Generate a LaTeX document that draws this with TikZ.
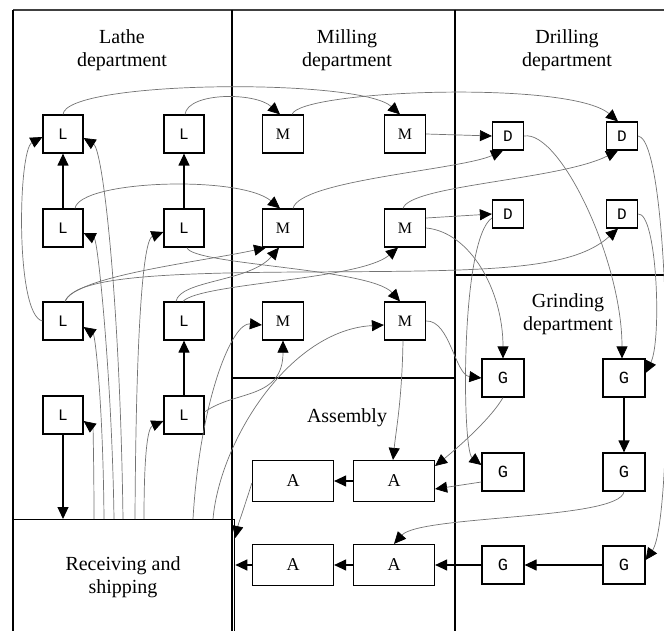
\documentclass[tikz,border=0pt]{standalone}
\usepackage{fontspec}
\setmainfont{Liberation Serif}
\newfontfamily\monolabel{Liberation Mono}
\usetikzlibrary{arrows.meta,calc}

\begin{document}
\begin{tikzpicture}[x=1pt,y=-1pt,
  deptline/.style={draw=black, line width=1.1pt},
  box/.style={draw=black, line width=1.2pt, fill=white, inner sep=0pt, text height=1.08em, text depth=0pt},
  lbox/.style={box, minimum width=40pt, minimum height=38pt, font=\monolabel\fontsize{16}{16}\selectfont},
  mbox/.style={box, minimum width=41pt, minimum height=38pt, font=\fontsize{16}{16}\selectfont},
  dbox/.style={box, minimum width=31pt, minimum height=28pt, font=\monolabel\fontsize{16}{16}\selectfont},
  gbox/.style={box, minimum width=42pt, minimum height=38pt, font=\monolabel\fontsize{17}{17}\selectfont},
  abox/.style={box, minimum width=81pt, minimum height=41pt, font=\fontsize{18}{18}\selectfont},
  title/.style={align=center, font=\fontsize{20}{23}\selectfont, inner sep=0pt},
  flow/.style={draw=black!55, line width=0.7pt, -{Triangle[length=12pt,width=11pt,color=black]}},
  move/.style={draw=black, line width=1.2pt, -{Triangle[length=12pt,width=11pt]}}
]
\useasboundingbox (0,0) rectangle (664,631);

% department frame
\draw[deptline, draw=black!75] (13,10) -- (664,10);
\draw[deptline] (13,10) -- (13,631);
\draw[deptline] (232,10) -- (232,631);
\draw[deptline] (455,10) -- (455,631);
\draw[deptline] (455,275) -- (664,275);
\draw[deptline] (232,378) -- (455,378);

% receiving and shipping area
\node[draw=black, line width=1.3pt, minimum width=221pt, minimum height=140pt,
      anchor=north west, inner sep=0pt] (recv) at (13,519) {};

% department titles
\node[title] (tlathe) at (122,50) {Lathe\\department};
\node[title] (tmill) at (347,50) {Milling\\department};
\node[title] (tdrill) at (567,50) {Drilling\\department};
\node[title] (tgrind) at (568,314) {Grinding\\department};
\node[title] (tasm) at (347,418) {Assembly};
\node[title] (trecv) at (123,577) {Receiving and\\shipping};

% machines
\node[lbox] (L11) at (63,134) {L};
\node[lbox] (L12) at (184,134) {L};
\node[lbox] (L21) at (63,228) {L};
\node[lbox] (L22) at (184,228) {L};
\node[lbox] (L31) at (63,321) {L};
\node[lbox] (L32) at (184,321) {L};
\node[lbox] (L41) at (63,415) {L};
\node[lbox] (L42) at (184,415) {L};

\node[mbox] (M11) at (283,134) {M};
\node[mbox] (M12) at (405,134) {M};
\node[mbox] (M21) at (283,228) {M};
\node[mbox] (M22) at (405,228) {M};
\node[mbox] (M31) at (283,321) {M};
\node[mbox] (M32) at (405,321) {M};

\node[dbox] (D11) at (508,136) {D};
\node[dbox] (D12) at (622,136) {D};
\node[dbox] (D21) at (508,214) {D};
\node[dbox] (D22) at (622,214) {D};

\node[gbox] (G11) at (503,378) {G};
\node[gbox] (G12) at (624,378) {G};
\node[gbox] (G21) at (503,472) {G};
\node[gbox] (G22) at (624,472) {G};
\node[gbox] (G31) at (503,565) {G};
\node[gbox] (G32) at (624,565) {G};

\node[abox] (A11) at (293,481) {A};
\node[abox] (A12) at (394,481) {A};
\node[abox] (A21) at (293,565) {A};
\node[abox] (A22) at (394,565) {A};

% flow lines
% lathe
\draw[flow] (L31.west) .. controls (15,315) and (18,150) .. ($(L11.west)+(0,3)$);
\draw[flow] ($(recv.north west)+(110,0)$) .. controls (120,300) and (103,150) .. ($(L11.east)+(0,4)$);
\draw[flow] ($(recv.north west)+(101,0)$) .. controls (112,380) and (98,240) .. ($(L21.east)+(0,5)$);
\draw[flow] ($(recv.north west)+(91,0)$) .. controls (103,400) and (95,335) .. ($(L31.east)+(0,6)$);
\draw[flow] ($(recv.north west)+(81,0)$) .. controls (94,470) and (93,428) .. ($(L41.east)+(0,6)$);
\draw[flow] ($(recv.north west)+(122,0)$) .. controls (136,330) and (143,240) .. ($(L22.west)+(0,4)$);
\draw[flow] ($(recv.north west)+(131,0)$) .. controls (144,460) and (147,428) .. ($(L42.west)+(0,6)$);
\draw[flow] ($(recv.north west)+(180,0)$) .. controls (200,400) and (232,322) .. ($(M31.west)+(0,4)$);
\draw[flow] ($(recv.north west)+(200,0)$) .. controls (220,440) and (290,330) .. ($(M32.west)+(0,4)$);

\draw[flow] (L11.north) .. controls (66,80) and (360,78) .. ($(M12.north)+(-5,0)$);
\draw[flow] ($(L12.north)+(1,0)$) .. controls (188,92) and (255,92) .. ($(M11.north)+(-3,0)$);
\draw[flow] ($(L21.north)+(12,0)$) .. controls (80,180) and (240,175) .. ($(M21.north)+(-3,0)$);
\draw[flow] ($(L22.south)+(3,0)$) .. controls (192,265) and (370,268) .. ($(M32.north)+(-5,0)$);
\draw[flow] ($(L31.north)+(2,0)$) .. controls (75,278) and (150,273) .. (300,272)
            .. controls (480,271) and (570,272) .. ($(D22.south)+(-4,0)$);
\draw[flow] ($(L31.north)+(2,0)$) .. controls (75,276) and (200,262) .. ($(M21.south)+(-17,0)$);
\draw[flow] ($(L32.north)+(-8,0)$) .. controls (180,280) and (250,282) .. ($(M21.south)+(-4,0)$);
\draw[flow] ($(L32.north)+(-1,0)$) .. controls (200,283) and (360,280) .. ($(M22.south)+(-7,0)$);
\draw[flow] ($(L42.east)+(0,-3)$) .. controls (235,390) and (283,400) .. (M31.south);

% milling
\draw[flow] ($(M11.north)+(9,0)$) .. controls (300,90) and (570,80) .. ($(D12.north)+(-4,0)$);
\draw[flow] (M12.east) -- (D11.west);
\draw[flow] ($(M21.north)+(10,0)$) .. controls (300,180) and (460,170) .. ($(D11.south)+(-5,0)$);
\draw[flow] ($(M22.north)+(-2,0)$) .. controls (410,185) and (560,180) .. ($(D12.south)+(-4,0)$);
\draw[flow] ($(M22.east)+(0,-10)$) -- (D21.west);
\draw[flow] (M22.east) .. controls (470,232) and (503,290) .. (G11.north);
\draw[flow] (M32.east) .. controls (450,320) and (455,375) .. (G11.west);
\draw[flow] ($(M32.south)+(-2,0)$) .. controls (402,400) and (396,430) .. ($(A12.north)+(-1,0)$);

% drilling
\draw[flow] (D11.east) .. controls (560,130) and (622,260) .. ($(G12.north)+(-2,0)$);
\draw[flow] (D12.east) .. controls (672,140) and (674,520) .. ($(G32.east)+(0,-5)$);
\draw[flow] (D22.east) .. controls (657,212) and (662,340) .. ($(G12.east)+(0,-5)$);
\draw[flow] ($(D21.west)+(0,4)$) .. controls (460,240) and (462,450) .. ($(G21.west)+(0,-7)$);

% grinding and assembly
\draw[flow] (G22.south) .. controls (620,520) and (420,515) .. (A22.north);
\draw[flow] (G11.south) .. controls (490,420) and (455,450) .. ($(A12.east)+(0,-15)$);
\draw[flow] ($(G21.west)+(0,10)$) -- ($(A12.east)+(0,8)$);
\draw[flow] ($(A11.west)+(0,2)$) .. controls (245,505) and (238,525) .. ($(A11.west -| recv.east)+(0,57)$);

% straight material moves
\draw[move] (L21.north) -- (L11.south);
\draw[move] (L22.north) -- (L12.south);
\draw[move] (L42.north) -- (L32.south);
\draw[move] (L41.south) -- (L41.south |- recv.north);
\draw[move] (G12.south) -- (G22.north);
\draw[move] (G32.west) -- (G31.east);
\draw[move] (G31.west) -- (A22.east);
\draw[move] (A22.west) -- (A21.east);
\draw[move] (A21.west) -- (A21.west -| recv.east);
\draw[move] (A12.west) -- (A11.east);
\end{tikzpicture}
\end{document}
